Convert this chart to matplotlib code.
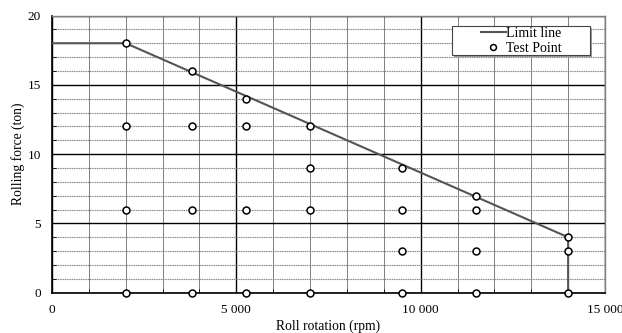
import numpy as np
import matplotlib.pyplot as plt
from matplotlib.patches import Rectangle
from matplotlib.ticker import MultipleLocator, FuncFormatter

plt.rcParams['font.family'] = ['Liberation Serif', 'DejaVu Serif']

# limit line vertices
limit_x = [0, 2000, 14000, 14000]
limit_y = [18, 18, 4, 0]

# test points
test_x = [2000, 2000, 2000, 2000,
          3800, 3800, 3800, 3800,
          5250, 5250, 5250, 5250,
          7000, 7000, 7000, 7000,
          9500, 9500, 9500, 9500,
          11500, 11500, 11500, 11500,
          14000, 14000, 14000]
test_y = [18, 12, 6, 0,
          16, 12, 6, 0,
          14, 12, 6, 0,
          12, 9, 6, 0,
          9, 6, 3, 0,
          7, 6, 3, 0,
          4, 3, 0]

W, H = 622, 333
fig = plt.figure(figsize=(W/100, H/100), dpi=100)
ax = fig.add_axes([52/W, 1 - 292.7/H, (605-52)/W, (292.7-15.5)/H])

ax.set_xlim(0, 15000)
ax.set_ylim(0, 20)
ax.xaxis.set_major_locator(MultipleLocator(5000))
ax.xaxis.set_minor_locator(MultipleLocator(1000))
ax.yaxis.set_major_locator(MultipleLocator(5))
ax.yaxis.set_minor_locator(MultipleLocator(1))
ax.xaxis.set_major_formatter(FuncFormatter(lambda v, p: f'{int(v):,}'.replace(',', ' ')))

# grid
ax.grid(which='minor', axis='x', color='#808080', lw=0.7, ls='-')
ax.grid(which='minor', axis='y', color='#808080', lw=0.8, ls=(0, (1, 0.6)))
ax.grid(which='major', color='black', lw=1.0)
ax.set_axisbelow(True)

ax.plot(limit_x, limit_y, color='#555555', lw=1.5, label='Limit line', zorder=3)
ax.plot(test_x, test_y, ls='none', marker='o', ms=5, mfc='white', mec='black',
        mew=1.1, label='Test Point', zorder=4, clip_on=False)

for s in ['top', 'right']:
    ax.spines[s].set_color('#808080')
    ax.spines[s].set_linewidth(1.0)
for s in ['left', 'bottom']:
    ax.spines[s].set_color('black')
    ax.spines[s].set_linewidth(1.2)

ax.tick_params(which='both', direction='in', top=False, right=False, labelsize=9.5,
               colors='black')
ax.tick_params(which='major', length=0, pad=8)
ax.tick_params(which='minor', length=3)

ax.set_xlabel('Roll rotation (rpm)', fontsize=9.8, labelpad=3)
ax.set_ylabel('Rolling force (ton)', fontsize=9.8, labelpad=2)

# legend box (drawn by hand, wider than the content)
bx0, by0, bx1, by1 = 452, 25.7, 590, 55
fig.patches.append(Rectangle(((bx0 + 2)/W, 1 - (by1 + 2)/H), (bx1 - bx0)/W, (by1 - by0)/H,
                             transform=fig.transFigure, facecolor='#999999',
                             edgecolor='none', zorder=5))
fig.patches.append(Rectangle((bx0/W, 1 - by1/H), (bx1 - bx0)/W, (by1 - by0)/H,
                             transform=fig.transFigure, facecolor='white',
                             edgecolor='#444444', lw=0.8, zorder=6))
leg = ax.legend(loc='center', bbox_to_anchor=(521/W, 1 - 40.8/H),
                bbox_transform=fig.transFigure, fontsize=10, frameon=False,
                borderpad=0, labelspacing=0.15, handlelength=1.8,
                handletextpad=0.0, borderaxespad=0, markerscale=0.85)
leg.set_zorder(7)
leg.remove()
fig.add_artist(leg)

fig.savefig('out.png', dpi=100)
